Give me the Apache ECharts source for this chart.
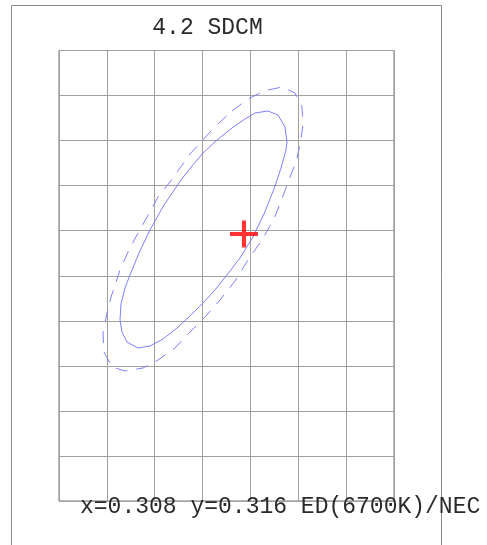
<!DOCTYPE html>
<html>
<head>
<meta charset="utf-8">
<script src="https://cdn.jsdelivr.net/npm/echarts@6/dist/echarts.min.js"></script>
<style>
  html, body { margin: 0; padding: 0; background: #fff; }
  #chart { width: 487px; height: 545px; }
</style>
</head>
<body>
<div id="chart"></div>
<script>
// Units: grid cells (7 columns x 10 rows), origin at lower-left corner of the grid
var titleText = '4.2 SDCM';
var footerText = 'x=0.308 y=0.316 ED(6700K)/NEC';
var xMin = 0, xMax = 7, xStep = 1;
var yMin = 0, yMax = 10, yStep = 1;

// Centre point (red cross)
var centrePoint = [[3.865, 5.927]];

// Inner (solid) ellipse outline
var solidEllipse = [
  [4.367, 8.657], [4.576, 8.568], [4.722, 8.302], [4.764, 7.969], [4.743, 7.791],
  [4.639, 7.392], [4.492, 6.926], [4.283, 6.371], [4.053, 5.860], [3.782, 5.394],
  [3.510, 5.017], [3.259, 4.684], [3.009, 4.395], [2.737, 4.107], [2.466, 3.840],
  [2.173, 3.596], [1.901, 3.441], [1.651, 3.396], [1.421, 3.529], [1.316, 3.751],
  [1.275, 4.018], [1.295, 4.373], [1.379, 4.728], [1.483, 5.017], [1.672, 5.505],
  [1.901, 6.016], [2.194, 6.570], [2.549, 7.125], [2.779, 7.436], [3.009, 7.725],
  [3.301, 8.013], [3.615, 8.280], [3.886, 8.479], [4.095, 8.613], [4.367, 8.657]
];

// Outer (dashed) ellipse outline
var dashedEllipse = [
  [3.615, 8.657], [3.949, 8.923], [4.283, 9.101], [4.659, 9.190], [4.931, 9.057],
  [5.077, 8.746], [5.098, 8.346], [5.035, 7.902], [4.952, 7.525], [4.827, 7.192],
  [4.680, 6.770], [4.492, 6.260], [4.242, 5.794], [3.949, 5.350], [3.677, 4.883],
  [3.364, 4.462], [3.051, 4.084], [2.737, 3.751], [2.424, 3.396], [2.069, 3.130],
  [1.755, 2.952], [1.379, 2.886], [1.107, 2.974], [0.940, 3.307], [0.919, 3.729],
  [1.003, 4.173], [1.087, 4.528], [1.275, 5.128], [1.442, 5.527], [1.630, 5.905],
  [1.839, 6.304], [2.069, 6.748], [2.319, 7.081], [2.737, 7.703], [2.988, 7.991],
  [3.155, 8.191], [3.364, 8.413], [3.615, 8.657]
];

var monoFont = '"Liberation Mono", "DejaVu Sans Mono", monospace';
var chart = echarts.init(document.getElementById('chart'), null, { renderer: 'canvas' });

chart.setOption({
  animation: false,
  backgroundColor: '#ffffff',
  grid: {
    left: 59, top: 50.5, width: 335, height: 450.5,
    show: true, borderColor: '#777777', borderWidth: 1, backgroundColor: 'transparent'
  },
  xAxis: {
    type: 'value', min: xMin, max: xMax, interval: xStep,
    axisLabel: { show: false }, axisTick: { show: false },
    axisLine: { show: false },
    splitLine: { show: true, lineStyle: { color: '#a0a0a0', width: 1 } }
  },
  yAxis: {
    type: 'value', min: yMin, max: yMax, interval: yStep,
    axisLabel: { show: false }, axisTick: { show: false },
    axisLine: { show: false },
    splitLine: { show: true, lineStyle: { color: '#a0a0a0', width: 1 } }
  },
  graphic: [
    {
      type: 'rect', silent: true, z: 0,
      shape: { x: 11.5, y: 5.5, width: 430, height: 600 },
      style: { fill: 'none', stroke: '#8a8a8a', lineWidth: 1 }
    },
    {
      type: 'text', z: 100,
      style: {
        text: titleText, x: 207.5, y: 28, textAlign: 'center', textVerticalAlign: 'middle',
        font: '23px ' + monoFont, fill: '#2a2a2a'
      }
    },
    {
      type: 'text', z: 100,
      style: {
        text: footerText, x: 80, y: 506.5, textAlign: 'left', textVerticalAlign: 'middle',
        font: '23px ' + monoFont, fill: '#2a2a2a'
      }
    }
  ],
  series: [
    {
      type: 'line', data: solidEllipse, showSymbol: false, symbol: 'none', smooth: false,
      lineStyle: { color: '#8080ff', width: 1, type: 'solid' }, z: 3
    },
    {
      type: 'line', data: dashedEllipse, showSymbol: false, symbol: 'none', smooth: false,
      lineStyle: { color: '#8080ff', width: 1, type: [12, 9] }, z: 3
    },
    {
      type: 'scatter', data: centrePoint,
      symbol: 'path://M11.5,0h4v11.5h11.5v4h-11.5v11.5h-4v-11.5h-11.5v-4h11.5z',
      symbolSize: [28, 27], symbolKeepAspect: false,
      itemStyle: { color: '#ff0000' }, z: 5
    }
  ]
});
</script>
</body>
</html>
